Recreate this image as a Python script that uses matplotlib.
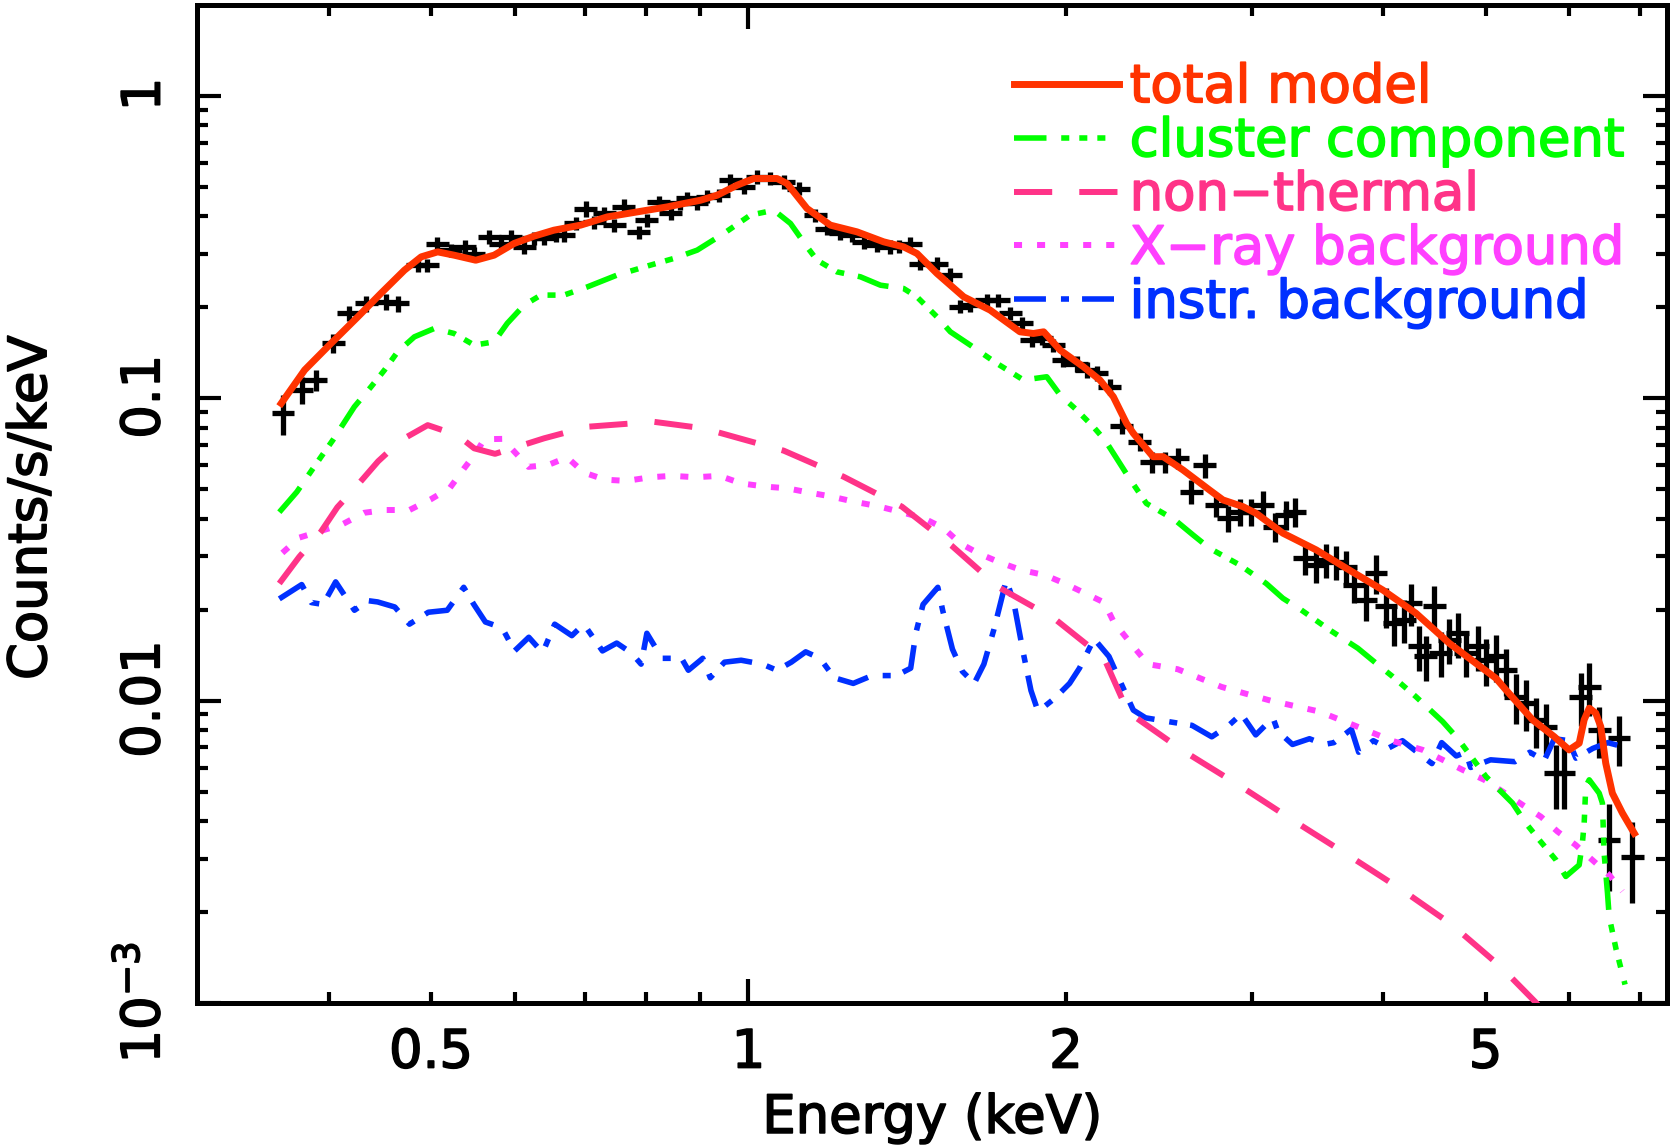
import numpy as np
import matplotlib
matplotlib.use("Agg")
import matplotlib.pyplot as plt
import matplotlib.patheffects as pe
from matplotlib.ticker import FixedLocator, FixedFormatter

# Binned spectrum: bin centre (keV), count rate (counts/s/keV), fractional 1-sigma error
energy = [0.362, 0.377, 0.389, 0.404, 0.418, 0.434, 0.453, 0.465, 0.486, 0.496,
          0.507, 0.522, 0.538, 0.549, 0.568, 0.582, 0.595, 0.613, 0.626, 0.640,
          0.657, 0.668, 0.686, 0.701, 0.714, 0.730, 0.746, 0.762, 0.787, 0.801,
          0.822, 0.844, 0.862, 0.875, 0.894, 0.914, 0.937, 0.961, 0.990, 1.019,
          1.049, 1.080, 1.116, 1.157, 1.187, 1.222, 1.254, 1.286, 1.324, 1.363,
          1.390, 1.424, 1.455, 1.509, 1.554, 1.588, 1.623, 1.683, 1.726, 1.771,
          1.816, 1.857, 1.897, 1.946, 1.989, 2.048, 2.093, 2.139, 2.202, 2.260,
          2.350, 2.411, 2.482, 2.555, 2.630, 2.708, 2.778, 2.850, 2.923, 2.998,
          3.075, 3.154, 3.235, 3.295, 3.368, 3.455, 3.530, 3.608, 3.688, 3.755,
          3.852, 3.937, 4.024, 4.098, 4.188, 4.250, 4.327, 4.389, 4.470, 4.535,
          4.619, 4.704, 4.789, 4.913, 5.004, 5.114, 5.227, 5.342, 5.460, 5.580,
          5.703, 5.831, 5.936, 6.155, 6.270, 6.408, 6.549, 6.693, 6.889]
rate = [0.0891, 0.1065, 0.1148, 0.152, 0.191, 0.206, 0.2085, 0.206, 0.276, 0.276,
        0.325, 0.309, 0.317, 0.301, 0.342, 0.325, 0.342, 0.317, 0.338, 0.338,
        0.346, 0.346, 0.379, 0.424, 0.383, 0.409, 0.374, 0.430, 0.355, 0.388,
        0.446, 0.409, 0.441, 0.458, 0.441, 0.464, 0.470, 0.526, 0.500, 0.540,
        0.533, 0.520, 0.494, 0.403, 0.364, 0.351, 0.346, 0.329, 0.321, 0.317,
        0.318, 0.325, 0.279, 0.279, 0.256, 0.201, 0.203, 0.211, 0.211, 0.191,
        0.177, 0.156, 0.158, 0.150, 0.134, 0.130, 0.124, 0.121, 0.109, 0.081,
        0.0718, 0.0617, 0.0617, 0.0633, 0.0491, 0.0601, 0.0444, 0.0401, 0.0421, 0.0421,
        0.0444, 0.0376, 0.0411, 0.0421, 0.0296, 0.0281, 0.0292, 0.0288, 0.0277, 0.0241,
        0.0215, 0.0264, 0.0205, 0.0180, 0.0185, 0.0210, 0.0151, 0.0140, 0.0205, 0.0144,
        0.0159, 0.0167, 0.0144, 0.0151, 0.0136, 0.0140, 0.0126, 0.0103, 0.0098, 0.0086,
        0.0082, 0.00575, 0.00575, 0.0103, 0.0111, 0.0080, 0.00346, 0.0075, 0.00305]
rate_err_frac = [0.15, 0.10, 0.08, 0.07, 0.06, 0.06, 0.06, 0.06, 0.05, 0.05,
                 0.05, 0.05, 0.05, 0.05, 0.05, 0.05, 0.05, 0.05, 0.05, 0.05,
                 0.05, 0.05, 0.05, 0.06, 0.05, 0.05, 0.05, 0.06, 0.05, 0.05,
                 0.05, 0.05, 0.05, 0.05, 0.05, 0.05, 0.05, 0.05, 0.05, 0.05,
                 0.05, 0.05, 0.05, 0.05, 0.05, 0.05, 0.05, 0.05, 0.05, 0.05,
                 0.05, 0.05, 0.05, 0.05, 0.05, 0.05, 0.05, 0.05, 0.05, 0.05,
                 0.05, 0.05, 0.05, 0.05, 0.05, 0.06, 0.06, 0.06, 0.06, 0.06,
                 0.07, 0.08, 0.08, 0.08, 0.09, 0.09, 0.09, 0.10, 0.10, 0.10,
                 0.11, 0.11, 0.11, 0.11, 0.12, 0.13, 0.13, 0.13, 0.13, 0.13,
                 0.15, 0.15, 0.15, 0.16, 0.16, 0.16, 0.17, 0.17, 0.17, 0.17,
                 0.17, 0.17, 0.17, 0.17, 0.18, 0.18, 0.18, 0.19, 0.19, 0.19,
                 0.19, 0.24, 0.24, 0.20, 0.20, 0.19, 0.32, 0.19, 0.30]
bin_half_frac = 0.025

# Folded model components
total_e = [0.3605, 0.3794, 0.402, 0.4262, 0.4481, 0.4718, 0.4894, 0.5073, 0.5258, 0.5513,
           0.5738, 0.5995, 0.626, 0.6538, 0.6931, 0.7348, 0.7843, 0.8374, 0.8686, 0.9005,
           0.9339, 0.9754, 1.0116, 1.0643, 1.088, 1.1363, 1.1958, 1.2673, 1.3433, 1.403,
           1.4446, 1.509, 1.600, 1.695, 1.809, 1.863, 1.905, 1.975, 2.078, 2.154,
           2.218, 2.283, 2.317, 2.419, 2.473, 2.583, 2.737, 2.818, 2.944, 3.031,
           3.212, 3.455, 3.715, 3.996, 4.295, 4.619, 4.895, 5.114, 5.227, 5.540,
           5.808, 6.001, 6.134, 6.201, 6.270, 6.360, 6.430, 6.500, 6.595, 6.740, 6.918]
total_y = [0.0962, 0.124, 0.152, 0.186, 0.2222, 0.2653, 0.2936, 0.305, 0.2974, 0.2862,
           0.2974, 0.3252, 0.3437, 0.3597, 0.3738, 0.3981, 0.4135, 0.4296, 0.4408, 0.4519,
           0.4695, 0.5068, 0.5332, 0.5332, 0.5132, 0.4244, 0.3738, 0.3552, 0.3292, 0.3168,
           0.3013, 0.2588, 0.2165, 0.1957, 0.1659, 0.1638, 0.1659, 0.1443, 0.1271, 0.1149,
           0.1012, 0.0826, 0.0766, 0.0641, 0.0641, 0.0579, 0.0497, 0.0461, 0.0438, 0.0416,
           0.0358, 0.0315, 0.0270, 0.0232, 0.01945, 0.01548, 0.01329, 0.01186, 0.01085, 0.00864,
           0.0076, 0.00687, 0.00723, 0.00864, 0.00944, 0.00909, 0.0082, 0.00621, 0.00494, 0.00425, 0.00364]

cluster_e = [0.359, 0.373, 0.393, 0.4035, 0.4229, 0.4386, 0.4517, 0.4648, 0.4822, 0.5036,
             0.5258, 0.5494, 0.5738, 0.5905, 0.6126, 0.6355, 0.6683, 0.7035, 0.7504, 0.8074,
             0.8497, 0.894, 0.9475, 1.004, 1.057, 1.096, 1.1363, 1.1616, 1.213, 1.277,
             1.334, 1.403, 1.4446, 1.509, 1.554, 1.623, 1.720, 1.771, 1.823, 1.918,
             1.975, 2.048, 2.123, 2.178, 2.234, 2.292, 2.384, 2.537, 2.640, 2.737,
             2.923, 3.097, 3.212, 3.343, 3.557, 3.783, 3.937, 4.083, 4.295, 4.553,
             4.704, 5.004, 5.303, 5.460, 5.622, 5.831, 5.957, 6.134, 6.177, 6.201,
             6.223, 6.270, 6.408, 6.453, 6.477, 6.525, 6.549, 6.650, 6.780]
cluster_y = [0.042, 0.049, 0.0638, 0.0727, 0.0937, 0.1091, 0.124, 0.1424, 0.1597, 0.1702,
             0.1638, 0.1499, 0.1537, 0.1769, 0.2032, 0.2194, 0.2194, 0.2336, 0.2555, 0.2757,
             0.2901, 0.309, 0.3508, 0.4034, 0.4189, 0.3787, 0.3168, 0.2862, 0.2619, 0.2522,
             0.2366, 0.2308, 0.2165, 0.186, 0.1659, 0.1499, 0.1304, 0.1224, 0.1149, 0.1178,
             0.1025, 0.0914, 0.0805, 0.0727, 0.0633, 0.055, 0.0449, 0.0396, 0.0353, 0.0319,
             0.0281, 0.0244, 0.0218, 0.01995, 0.01713, 0.0149, 0.01329, 0.012, 0.0103, 0.00852,
             0.0075, 0.00561, 0.00458, 0.00393, 0.00346, 0.00297, 0.00262, 0.00286, 0.00338, 0.00393,
             0.0052, 0.00547, 0.00494, 0.00458, 0.00313, 0.00231, 0.00193, 0.0015, 0.00115]

nonth_e = [0.359, 0.375, 0.393, 0.4075, 0.425, 0.4455, 0.4684, 0.4964, 0.5297, 0.5494,
           0.575, 0.6037, 0.6399, 0.7035, 0.8132, 0.9073, 0.9685, 1.080, 1.231, 1.398,
           1.559, 1.727, 1.953, 2.174, 2.290, 2.579, 2.933, 3.290, 3.710, 4.170,
           4.640, 5.165, 5.570, 5.900]
nonth_y = [0.0244, 0.0299, 0.0361, 0.0436, 0.0512, 0.0619, 0.0727, 0.0815, 0.0755, 0.0683,
           0.0655, 0.0691, 0.0737, 0.0805, 0.0836, 0.0795, 0.0746, 0.0671, 0.055, 0.0438,
           0.0325, 0.0237, 0.0186, 0.0138, 0.00917, 0.00685, 0.00519, 0.0040, 0.00307, 0.00236,
           0.00182, 0.00132, 0.00101, 0.0008]

cxb_e = [0.3614, 0.375, 0.412, 0.432, 0.452, 0.477, 0.4996, 0.521, 0.537, 0.551,
         0.5617, 0.5845, 0.6185, 0.646, 0.673, 0.698, 0.731, 0.766, 0.807, 0.846,
         0.891, 0.939, 0.984, 1.039, 1.087, 1.144, 1.199, 1.259, 1.325, 1.393,
         1.466, 1.531, 1.588, 1.652, 1.733, 1.816, 1.911, 1.995, 2.175, 2.220,
         2.293, 2.392, 2.553, 2.809, 3.126, 3.478, 3.747, 4.084, 4.359, 4.553,
         4.756, 4.986, 5.190, 5.420, 5.642, 5.850, 6.087, 6.313, 6.549, 6.740]
cxb_y = [0.0308, 0.0346, 0.0383, 0.0418, 0.0427, 0.0427, 0.0463, 0.0505, 0.0584, 0.0657,
         0.0732, 0.0734, 0.0593, 0.0602, 0.0638, 0.0568, 0.0538, 0.0533, 0.0548, 0.0554,
         0.0548, 0.0554, 0.0523, 0.051, 0.0504, 0.0487, 0.0473, 0.0455, 0.044, 0.0421,
         0.0401, 0.0372, 0.0331, 0.0307, 0.0286, 0.027, 0.026, 0.0244, 0.0211, 0.0182,
         0.0158, 0.0132, 0.0127, 0.0111, 0.0100, 0.0092, 0.0083, 0.00735, 0.00687, 0.00637,
         0.0059, 0.00547, 0.0050, 0.00452, 0.00413, 0.00369, 0.00333, 0.00297, 0.00265, 0.00234]

nxb_e = [0.359, 0.377, 0.385, 0.395, 0.406, 0.423, 0.436, 0.445, 0.462, 0.477,
         0.497, 0.518, 0.537, 0.549, 0.563, 0.584, 0.600, 0.619, 0.638, 0.655,
         0.680, 0.698, 0.727, 0.750, 0.774, 0.791, 0.801, 0.828, 0.864, 0.877,
         0.905, 0.920, 0.949, 0.984, 1.031, 1.064, 1.098, 1.133, 1.169, 1.206,
         1.257, 1.310, 1.381, 1.425, 1.441, 1.464, 1.512, 1.528, 1.561, 1.595,
         1.637, 1.672, 1.709, 1.756, 1.785, 1.822, 1.853, 1.882, 1.953, 2.016,
         2.060, 2.127, 2.197, 2.256, 2.317, 2.380, 2.497, 2.634, 2.750, 2.854,
         2.933, 3.027, 3.143, 3.176, 3.280, 3.404, 3.515, 3.590, 3.730, 3.790,
         3.913, 4.040, 4.170, 4.330, 4.447, 4.543, 4.690, 4.790, 4.840, 5.055,
         5.330, 5.507, 5.684, 5.810, 5.995, 6.090, 6.320, 6.530, 6.740]
nxb_y = [0.0217, 0.0242, 0.0211, 0.0208, 0.0247, 0.0199, 0.0214, 0.0212, 0.0204, 0.0179,
         0.0196, 0.0199, 0.0237, 0.0208, 0.0182, 0.0174, 0.0146, 0.0162, 0.0144, 0.0179,
         0.0164, 0.0179, 0.0146, 0.0155, 0.0144, 0.0132, 0.0167, 0.0138, 0.0138, 0.0126,
         0.0138, 0.0119, 0.0134, 0.0136, 0.0132, 0.0126, 0.0134, 0.0145, 0.0138, 0.0119,
         0.0114, 0.0121, 0.0121, 0.0128, 0.0167, 0.0208, 0.0237, 0.0199, 0.0148, 0.0125,
         0.0114, 0.0132, 0.0172, 0.0251, 0.0211, 0.0144, 0.0108, 0.0092, 0.0102, 0.0114,
         0.0128, 0.0160, 0.0140, 0.0114, 0.0093, 0.00877, 0.00853, 0.00828, 0.00759, 0.00828,
         0.00903, 0.0077, 0.00877, 0.00793, 0.00716, 0.00748, 0.00716, 0.00726, 0.00804, 0.00675,
         0.00737, 0.00695, 0.00737, 0.00665, 0.00619, 0.00726, 0.00656, 0.00675, 0.00601, 0.00637,
         0.00628, 0.00675, 0.00634, 0.00748, 0.00737, 0.00645, 0.00695, 0.00726, 0.00705]

legend_labels = ["total model", "cluster component", "non\u2212thermal",
                 "X\u2212ray background", "instr. background"]

x_major = [1.0]
x_major_labels = ["1"]
x_minor = [0.4, 0.5, 0.6, 0.7, 0.8, 0.9, 2.0, 3.0, 4.0, 5.0, 6.0, 7.0]
x_minor_labels = ["", "0.5", "", "", "", "", "2", "", "", "5", "", ""]
y_major = [1e-3, 1e-2, 1e-1, 1.0]
y_major_labels = ["$10^{-3}$", "$0.01$", "$0.1$", "$1$"]
y_minor = [m * d for d in (1e-3, 1e-2, 1e-1) for m in range(2, 10)]

plt.rcParams["font.family"] = "DejaVu Sans"
plt.rcParams["mathtext.default"] = "regular"
plt.rcParams["lines.scale_dashes"] = False
FS = 38

fig = plt.figure(figsize=(16.73, 11.47), dpi=100)
ax = fig.add_axes([0.1178, 0.1256, 0.8786, 0.8701])
ax.set_xscale("log")
ax.set_yscale("log")

e = np.array(energy)
r = np.array(rate)
ax.errorbar(e, r, xerr=e * bin_half_frac, yerr=r * np.array(rate_err_frac),
            fmt="none", ecolor="black", elinewidth=3.8, capsize=0, zorder=2)

l_nxb, = ax.plot(nxb_e, nxb_y, color="#0030ff", lw=4.0,
                 dashes=(23, 10.8, 5.8, 9.4), dash_capstyle="butt", zorder=3)
l_cxb, = ax.plot(cxb_e, cxb_y, color="#ff40ff", lw=4.3,
                 dashes=(5.8, 10.8), dash_capstyle="butt", zorder=3)
l_nt, = ax.plot(nonth_e, nonth_y, color="#ff3388", lw=4.3,
                dashes=(27.5, 19.5), dash_capstyle="butt", zorder=3)
l_cl, = ax.plot(cluster_e, cluster_y, color="#00ff00", lw=4.0,
                dashes=(23.4, 10.6, 5.8, 7.2, 5.8, 7.2, 5.8, 10), dash_capstyle="butt", zorder=3)
l_tot, = ax.plot(total_e, total_y, color="#ff3300", lw=5.0, zorder=4)

ax.set_xlim(0.3, 7.43)
ax.set_ylim(1e-3, 2.0)

ax.xaxis.set_major_locator(FixedLocator(x_major))
ax.xaxis.set_major_formatter(FixedFormatter(x_major_labels))
ax.xaxis.set_minor_locator(FixedLocator(x_minor))
ax.xaxis.set_minor_formatter(FixedFormatter(x_minor_labels))
ax.yaxis.set_major_locator(FixedLocator(y_major))
ax.yaxis.set_major_formatter(FixedFormatter(y_major_labels))
ax.yaxis.set_minor_locator(FixedLocator(y_minor))
ax.yaxis.set_minor_formatter(FixedFormatter([""] * len(y_minor)))

ax.tick_params(which="both", direction="in", top=True, right=True,
               width=3, labelsize=FS, color="black")
ax.tick_params(which="major", length=17)
ax.tick_params(which="minor", length=8)
ax.tick_params(axis="x", which="both", pad=17)
ax.tick_params(axis="y", which="both", pad=19, labelrotation=90)
for lbl in ax.get_yticklabels():
    lbl.set_va("center")

for sp in ax.spines.values():
    sp.set_linewidth(3.6)

ax.set_xlabel("Energy (keV)", fontsize=FS)
ax.xaxis.set_label_coords(0.5, -0.1152)
ax.xaxis.label.set_va("center")
ax.set_ylabel("Counts/s/keV", fontsize=FS)
ax.yaxis.set_label_coords(-0.1129, 0.496)
ax.yaxis.label.set_va("center")

handles = [l_tot, l_cl, l_nt, l_cxb, l_nxb]
colors = ["#ff3300", "#00ff00", "#ff3388", "#ff40ff", "#0030ff"]
leg = ax.legend(handles, legend_labels, loc="upper left", bbox_to_anchor=(0.5555, 0.9435),
                frameon=False, fontsize=FS, handlelength=2.0, handletextpad=0.2,
                labelspacing=0.035, borderpad=0, borderaxespad=0)
for txt, col in zip(leg.get_texts(), colors):
    txt.set_color(col)

# heavier strokes on all lettering
texts = (ax.get_xticklabels(which="both") + ax.get_yticklabels(which="both")
         + [ax.xaxis.label, ax.yaxis.label] + leg.get_texts())
for t in texts:
    t.set_path_effects([pe.withStroke(linewidth=1.2, foreground=t.get_color())])

fig.savefig("out.png", dpi=100)
